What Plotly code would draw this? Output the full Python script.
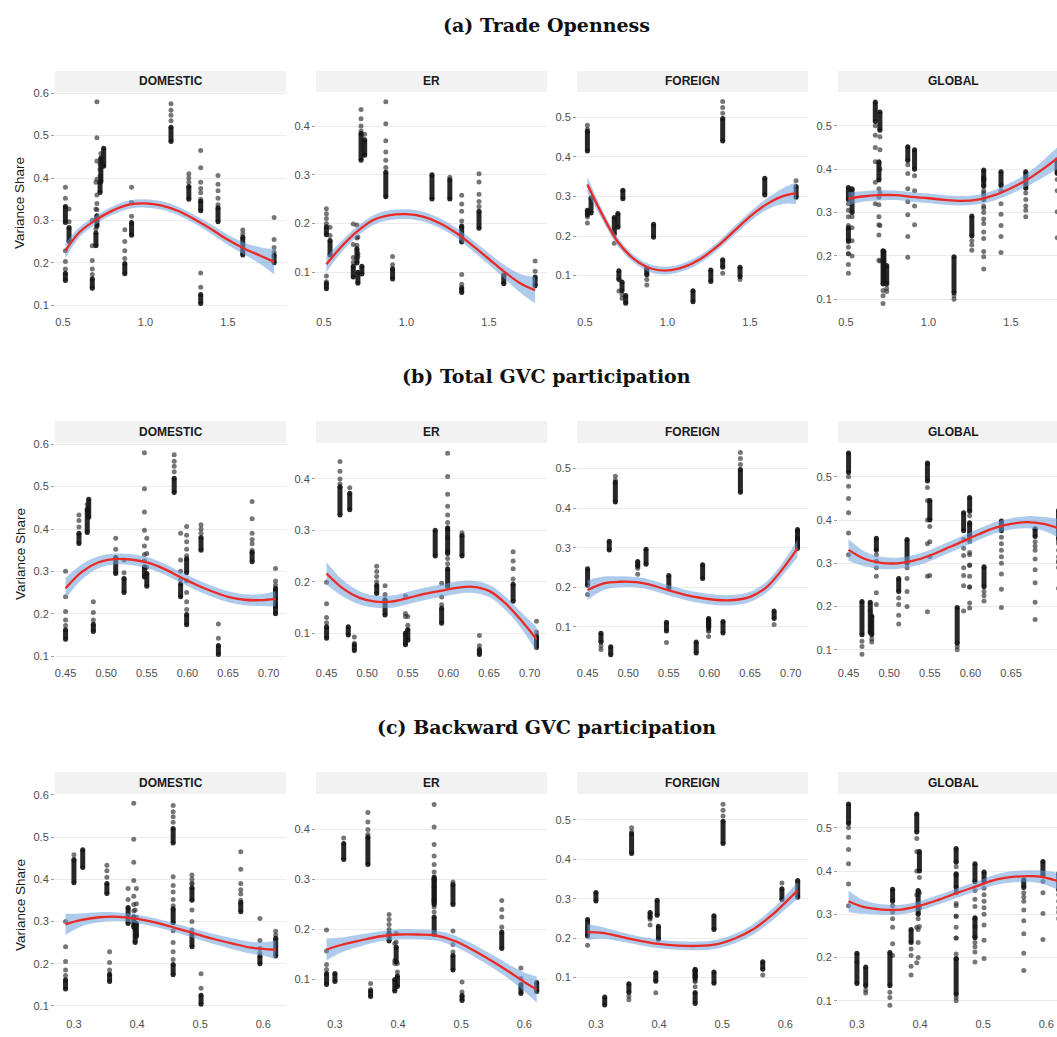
import plotly.graph_objects as go

# ---------------------------------------------------------------- data
# one entry per country (same order in every list)
COUNTRY = ["C1", "C2", "C3a", "C3b", "C4", "C5", "C6", "C7", "C8",
           "C9", "C10", "C11", "C12", "C13", "C14", "C15", "C16", "C17"]

# regressors (x) for the three rows
X_TRADE = [0.678, 0.725, 0.730, 0.747, 0.515, 0.515, 0.537, 0.706, 0.916,
           1.155, 0.700, 1.440, 0.875, 1.263, 1.335, 1.335, 1.590, 1.780]
X_GVC_TOTAL = [0.450, 0.4665, 0.4767, 0.4785, 0.4842, 0.5117, 0.5220, 0.5471, 0.5500,
               0.5837, 0.5916, 0.5990, 0.5990, 0.6167, 0.6381, 0.6796, 0.7084, 0.7084]
X_GVC_BACKWARD = [0.2867, 0.3522, 0.3000, 0.3139, 0.3565, 0.3858, 0.3970, 0.3948, 0.3990,
                  0.4572, 0.4870, 0.4572, 0.4572, 0.4870, 0.5014, 0.5643, 0.6197, 0.5947]

# variance shares: dense stack (low, high) and isolated values, per country
DOMESTIC_DENSE = [(0.140, 0.162), (0.366, 0.390), (0.392, 0.447), (0.428, 0.470), (0.158, 0.175),
                  (0.295, 0.333), (0.250, 0.283), (0.287, 0.311), (0.265, 0.295), (0.486, 0.520),
                  (0.240, 0.270), (0.297, 0.330), (0.174, 0.198), (0.350, 0.380), (0.104, 0.125),
                  (0.323, 0.345), (0.218, 0.260), (0.200, 0.218)]
DOMESTIC_SPARSE = [[0.172, 0.185, 0.205, 0.240, 0.300], [0.405, 0.420, 0.433], [0.458], [],
                   [0.185, 0.203, 0.228], [0.352, 0.378], [0.297, 0.327],
                   [0.325, 0.340, 0.360, 0.397, 0.440, 0.495, 0.580], [0.310, 0.342, 0.378],
                   [0.535, 0.548, 0.560, 0.575], [0.280, 0.300, 0.327, 0.390],
                   [0.337, 0.352, 0.370, 0.385, 0.406], [0.210, 0.228, 0.250, 0.278],
                   [0.390, 0.400, 0.410], [0.142, 0.176], [0.350, 0.365, 0.375, 0.390, 0.424, 0.465],
                   [0.268, 0.277], [0.225, 0.236, 0.255, 0.307]]

ER_DENSE = [(0.090, 0.112), (0.330, 0.385), (0.096, 0.112), (0.340, 0.372), (0.066, 0.077),
            (0.177, 0.193), (0.135, 0.165), (0.077, 0.100), (0.086, 0.107), (0.250, 0.300),
            (0.119, 0.148), (0.190, 0.225), (0.255, 0.305), (0.250, 0.290), (0.058, 0.068),
            (0.162, 0.195), (0.076, 0.094), (0.072, 0.090)]
ER_SPARSE = [[0.120, 0.130, 0.157, 0.199], [0.390, 0.400, 0.415, 0.434], [], [0.383],
             [0.080, 0.092], [0.200, 0.210, 0.220, 0.230], [0.175, 0.192], [0.132, 0.138, 0.172],
             [0.115, 0.132], [], [0.155, 0.170, 0.197], [0.235, 0.245, 0.260, 0.285, 0.302],
             [0.315, 0.330, 0.347, 0.370, 0.405, 0.450], [0.295], [0.075, 0.095],
             [0.205, 0.225, 0.240, 0.258], [], [0.102, 0.123]]

FOREIGN_DENSE = [(0.205, 0.247), (0.062, 0.084), (0.294, 0.316), (0.030, 0.050), (0.415, 0.465),
                 (0.253, 0.265), (0.258, 0.296), (0.090, 0.112), (0.197, 0.230), (0.034, 0.062),
                 (0.222, 0.257), (0.097, 0.121), (0.102, 0.118), (0.085, 0.114), (0.440, 0.497),
                 (0.121, 0.140), (0.304, 0.346), (0.298, 0.325)]
FOREIGN_SPARSE = [[0.182], [0.052, 0.043], [], [], [0.470, 0.480], [0.248, 0.233], [], [0.061],
                  [], [], [], [0.090], [0.090, 0.076], [], [0.510, 0.525, 0.540], [0.106], [],
                  [0.340]]

GLOBAL_DENSE = [(0.510, 0.555), (0.135, 0.212), (0.140, 0.210), (0.135, 0.178), (0.330, 0.358),
                (0.235, 0.265), (0.300, 0.355), (0.490, 0.532), (0.400, 0.445), (0.115, 0.198),
                (0.375, 0.417), (0.362, 0.394), (0.420, 0.452), (0.246, 0.292), (0.375, 0.398),
                (0.362, 0.380), (0.356, 0.394), (0.390, 0.422)]
GLOBAL_SPARSE = [[0.500, 0.478, 0.450, 0.417, 0.370, 0.320], [0.120, 0.108, 0.090], [0.190],
                 [0.125, 0.118], [0.320, 0.305, 0.290, 0.270, 0.232, 0.205],
                 [0.220, 0.205, 0.180, 0.160], [0.290, 0.265, 0.235, 0.200],
                 [0.475, 0.445, 0.400, 0.345, 0.270, 0.188], [0.385, 0.350, 0.315, 0.272],
                 [0.108, 0.100], [0.355, 0.335, 0.318, 0.290, 0.272, 0.248, 0.190],
                 [0.350, 0.320, 0.296, 0.270, 0.245, 0.208],
                 [0.410, 0.390, 0.355, 0.325, 0.295, 0.245, 0.197], [0.235, 0.225, 0.213],
                 [0.360, 0.345, 0.330, 0.315, 0.300, 0.275, 0.240, 0.198],
                 [0.350, 0.340, 0.330, 0.310, 0.285, 0.255, 0.210, 0.170],
                 [0.345, 0.330, 0.315, 0.305, 0.290], [0.376, 0.350, 0.302, 0.242]]

# fitted smooth curves (fit) and half-width of confidence band (se)
SMOOTH_X_A = [0.515, 0.6, 0.7, 0.8, 0.9, 1.0, 1.1, 1.2, 1.3, 1.4, 1.5, 1.6, 1.7, 1.78]
FIT_A_DOMESTIC = [0.228, 0.272, 0.301, 0.323, 0.337, 0.340, 0.335, 0.322, 0.302, 0.279, 0.254, 0.233, 0.216, 0.202]
SE_A_DOMESTIC = [0.018, 0.012, 0.010, 0.010, 0.010, 0.010, 0.010, 0.010, 0.010, 0.011, 0.012, 0.014, 0.020, 0.030]
FIT_A_ER = [0.116, 0.150, 0.183, 0.207, 0.217, 0.219, 0.214, 0.201, 0.181, 0.155, 0.127, 0.099, 0.075, 0.063]
SE_A_ER = [0.016, 0.012, 0.010, 0.010, 0.010, 0.010, 0.010, 0.010, 0.010, 0.011, 0.012, 0.014, 0.020, 0.027]
FIT_A_FOREIGN = [0.330, 0.258, 0.185, 0.141, 0.118, 0.113, 0.122, 0.142, 0.173, 0.211, 0.249, 0.280, 0.301, 0.308]
SE_A_FOREIGN = [0.020, 0.013, 0.011, 0.010, 0.010, 0.010, 0.010, 0.010, 0.010, 0.011, 0.012, 0.014, 0.020, 0.027]
FIT_A_GLOBAL = [0.332, 0.337, 0.340, 0.340, 0.336, 0.333, 0.329, 0.327, 0.330, 0.340, 0.356, 0.376, 0.402, 0.425]
SE_A_GLOBAL = [0.015, 0.012, 0.012, 0.011, 0.011, 0.011, 0.011, 0.011, 0.011, 0.012, 0.013, 0.015, 0.020, 0.025]

SMOOTH_X_B = [0.45, 0.47, 0.49, 0.51, 0.53, 0.55, 0.57, 0.59, 0.61, 0.63, 0.65, 0.67, 0.69, 0.7084]
FIT_B_DOMESTIC = [0.260, 0.299, 0.321, 0.329, 0.328, 0.321, 0.307, 0.288, 0.269, 0.253, 0.240, 0.233, 0.232, 0.235]
SE_B_DOMESTIC = [0.025, 0.018, 0.014, 0.013, 0.013, 0.013, 0.013, 0.013, 0.013, 0.013, 0.013, 0.013, 0.014, 0.018]
FIT_B_ER = [0.216, 0.187, 0.169, 0.161, 0.161, 0.168, 0.176, 0.182, 0.188, 0.190, 0.182, 0.158, 0.124, 0.088]
SE_B_ER = [0.022, 0.016, 0.013, 0.012, 0.012, 0.012, 0.012, 0.012, 0.012, 0.012, 0.012, 0.013, 0.016, 0.024]
FIT_B_FOREIGN = [0.193, 0.210, 0.214, 0.213, 0.205, 0.192, 0.181, 0.173, 0.168, 0.168, 0.176, 0.200, 0.246, 0.298]
SE_B_FOREIGN = [0.025, 0.017, 0.014, 0.013, 0.013, 0.013, 0.013, 0.013, 0.013, 0.013, 0.013, 0.014, 0.016, 0.022]
FIT_B_GLOBAL = [0.331, 0.310, 0.301, 0.300, 0.306, 0.318, 0.334, 0.350, 0.367, 0.382, 0.391, 0.395, 0.391, 0.381]
SE_B_GLOBAL = [0.025, 0.017, 0.014, 0.013, 0.013, 0.013, 0.013, 0.013, 0.013, 0.013, 0.013, 0.014, 0.016, 0.022]

SMOOTH_X_C = [0.2867, 0.31, 0.34, 0.37, 0.40, 0.43, 0.46, 0.49, 0.52, 0.55, 0.58, 0.60, 0.6197]
FIT_C_DOMESTIC = [0.293, 0.303, 0.310, 0.311, 0.306, 0.297, 0.285, 0.272, 0.259, 0.248, 0.238, 0.235, 0.233]
SE_C_DOMESTIC = [0.025, 0.016, 0.012, 0.010, 0.010, 0.010, 0.010, 0.011, 0.012, 0.013, 0.014, 0.016, 0.022]
FIT_C_ER = [0.160, 0.169, 0.178, 0.186, 0.190, 0.190, 0.188, 0.177, 0.158, 0.136, 0.112, 0.095, 0.080]
SE_C_ER = [0.022, 0.015, 0.012, 0.010, 0.010, 0.010, 0.010, 0.011, 0.012, 0.013, 0.015, 0.019, 0.026]
FIT_C_FOREIGN = [0.215, 0.213, 0.203, 0.193, 0.185, 0.181, 0.180, 0.184, 0.199, 0.223, 0.260, 0.290, 0.321]
SE_C_FOREIGN = [0.020, 0.015, 0.012, 0.011, 0.011, 0.011, 0.011, 0.011, 0.012, 0.013, 0.015, 0.017, 0.022]
FIT_C_GLOBAL = [0.330, 0.317, 0.311, 0.311, 0.320, 0.334, 0.350, 0.365, 0.380, 0.387, 0.388, 0.384, 0.376]
SE_C_GLOBAL = [0.025, 0.016, 0.012, 0.011, 0.011, 0.011, 0.011, 0.011, 0.012, 0.013, 0.014, 0.016, 0.020]

ROW_TITLES = ["(a) Trade Openness", "(b) Total GVC participation", "(c) Backward GVC participation"]
FACETS = ["DOMESTIC", "ER", "FOREIGN", "GLOBAL"]
Y_LABEL = "Variance Share"

# ---------------------------------------------------------------- assembly
ROW_X = [X_TRADE, X_GVC_TOTAL, X_GVC_BACKWARD]
DENSE = [DOMESTIC_DENSE, ER_DENSE, FOREIGN_DENSE, GLOBAL_DENSE]
SPARSE = [DOMESTIC_SPARSE, ER_SPARSE, FOREIGN_SPARSE, GLOBAL_SPARSE]
SMOOTH_X = [SMOOTH_X_A, SMOOTH_X_B, SMOOTH_X_C]
FITS = [[FIT_A_DOMESTIC, FIT_A_ER, FIT_A_FOREIGN, FIT_A_GLOBAL],
        [FIT_B_DOMESTIC, FIT_B_ER, FIT_B_FOREIGN, FIT_B_GLOBAL],
        [FIT_C_DOMESTIC, FIT_C_ER, FIT_C_FOREIGN, FIT_C_GLOBAL]]
SES = [[SE_A_DOMESTIC, SE_A_ER, SE_A_FOREIGN, SE_A_GLOBAL],
       [SE_B_DOMESTIC, SE_B_ER, SE_B_FOREIGN, SE_B_GLOBAL],
       [SE_C_DOMESTIC, SE_C_ER, SE_C_FOREIGN, SE_C_GLOBAL]]

W, H = 1057, 1037
COL_PX = [(55, 286), (316, 547), (577, 808), (838, 1069)]
ROW_PX = [(92, 314), (443, 665), (794, 1016)]
STRIP_PX = [(71, 92), (421, 443), (772, 794)]
TITLE_Y = [25, 376, 727]
X_RANGE = [(0.452, 1.852), (0.437, 0.7213), (0.270, 0.636)]
Y_RANGE = [[(0.079, 0.603), (0.014, 0.470), (0.003, 0.564), (0.066, 0.578)],
           [(0.079, 0.603), (0.0377, 0.470), (0.004, 0.564), (0.065, 0.578)],
           [(0.076, 0.602), (0.027, 0.471), (0.002, 0.566), (0.065, 0.578)]]
X_TICKS = [([0.5, 1.0, 1.5], ".1f"),
           ([0.45, 0.50, 0.55, 0.60, 0.65, 0.70], ".2f"),
           ([0.3, 0.4, 0.5, 0.6], ".1f")]

AXIS_FONT = dict(family="Liberation Sans, Arial, sans-serif", size=11, color="#4d4d4d")
DARK = "rgba(22,22,22,0.92)"
LIGHT = "rgba(45,45,45,0.65)"
RED = "#ec2a25"
BAND = "rgba(110,160,220,0.55)"

fig = go.Figure()
shapes, annotations = [], []

for r in range(3):
    xs_row = ROW_X[r]
    for c in range(4):
        k = r * 4 + c + 1
        xref = "x" if k == 1 else f"x{k}"
        yref = "y" if k == 1 else f"y{k}"

        # dense stacks as thick dark segments, isolated points as markers
        sx, sy, ex, ey, px, py = [], [], [], [], [], []
        for i in range(len(COUNTRY)):
            lo, hi = DENSE[c][i]
            sx += [xs_row[i], xs_row[i], None]
            sy += [lo, hi, None]
            ex += [xs_row[i], xs_row[i]]
            ey += [lo, hi]
            for v in SPARSE[c][i]:
                px.append(xs_row[i])
                py.append(v)
        fig.add_trace(go.Scatter(x=px, y=py, mode="markers", xaxis=xref, yaxis=yref,
                                 marker=dict(size=5, color=LIGHT, line=dict(width=0)),
                                 hoverinfo="skip", showlegend=False))
        fig.add_trace(go.Scatter(x=sx, y=sy, mode="lines", xaxis=xref, yaxis=yref,
                                 line=dict(width=5, color=DARK),
                                 hoverinfo="skip", showlegend=False))
        fig.add_trace(go.Scatter(x=ex, y=ey, mode="markers", xaxis=xref, yaxis=yref,
                                 marker=dict(size=5, color=DARK, line=dict(width=0)),
                                 hoverinfo="skip", showlegend=False))

        # confidence band and fitted line
        gx = SMOOTH_X[r]
        fit = FITS[r][c]
        se = SES[r][c]
        lower = [f - s for f, s in zip(fit, se)]
        upper = [f + s for f, s in zip(fit, se)]
        fig.add_trace(go.Scatter(x=gx, y=lower, mode="lines", xaxis=xref, yaxis=yref,
                                 line=dict(width=0, color=BAND, shape="spline"),
                                 hoverinfo="skip", showlegend=False))
        fig.add_trace(go.Scatter(x=gx, y=upper, mode="lines", xaxis=xref, yaxis=yref,
                                 line=dict(width=0, color=BAND, shape="spline"),
                                 fill="tonexty", fillcolor=BAND,
                                 hoverinfo="skip", showlegend=False))
        fig.add_trace(go.Scatter(x=gx, y=fit, mode="lines", xaxis=xref, yaxis=yref,
                                 line=dict(width=2.3, color=RED, shape="spline"),
                                 hoverinfo="skip", showlegend=False))

        # axes
        x0p, x1p = COL_PX[c]
        x1c = min(x1p, W)
        xlo, xhi = X_RANGE[r]
        xhi_c = xlo + (xhi - xlo) * (x1c - x0p) / (x1p - x0p)
        y0p, y1p = ROW_PX[r]
        tv, tf = X_TICKS[r]
        xkey = "xaxis" if k == 1 else f"xaxis{k}"
        ykey = "yaxis" if k == 1 else f"yaxis{k}"
        fig.update_layout(**{
            xkey: dict(domain=[x0p / W, x1c / W], range=[xlo, xhi_c], anchor=yref,
                       tickvals=tv, tickformat=tf, showgrid=False, zeroline=False,
                       showline=False, ticks="", tickfont=AXIS_FONT, fixedrange=True,
                       automargin=False),
            ykey: dict(domain=[1 - y1p / H, 1 - y0p / H], range=list(Y_RANGE[r][c]),
                       anchor=xref, dtick=0.1, tick0=0, tickformat=".1f",
                       showgrid=True, gridcolor="#ebebeb", gridwidth=1, zeroline=False,
                       showline=False, ticks="outside", ticklen=3, tickcolor="#9a9a9a",
                       tickwidth=1, tickfont=AXIS_FONT, fixedrange=True, automargin=False),
        })

        # facet strip
        s0, s1 = STRIP_PX[r]
        shapes.append(dict(type="rect", xref="paper", yref="paper",
                           x0=x0p / W, x1=x1c / W, y0=1 - s1 / H, y1=1 - s0 / H,
                           fillcolor="#f2f2f2", line=dict(width=0), layer="below"))
        annotations.append(dict(xref="paper", yref="paper", x=(x0p + x1p) / 2 / W,
                                y=1 - (s0 + s1) / 2 / H, text=f"<b>{FACETS[c]}</b>",
                                showarrow=False, xanchor="center", yanchor="middle",
                                font=dict(family="Liberation Sans, Arial, sans-serif",
                                          size=12, color="#1a1a1a")))

    # row title and y-axis label
    annotations.append(dict(xref="paper", yref="paper", x=546 / W, y=1 - TITLE_Y[r] / H,
                            text=f"<b>{ROW_TITLES[r]}</b>", showarrow=False,
                            xanchor="center", yanchor="middle",
                            font=dict(family="DejaVu Serif, serif", size=19, color="#111111")))
    annotations.append(dict(xref="paper", yref="paper", x=20 / W,
                            y=1 - (ROW_PX[r][0] + ROW_PX[r][1]) / 2 / H,
                            text=Y_LABEL, textangle=-90, showarrow=False,
                            xanchor="center", yanchor="middle",
                            font=dict(family="Liberation Sans, Arial, sans-serif",
                                      size=13.5, color="#1a1a1a")))

fig.update_layout(width=W, height=H, autosize=False,
                  margin=dict(l=0, r=0, t=0, b=0, pad=0, autoexpand=False),
                  paper_bgcolor="white", plot_bgcolor="white",
                  showlegend=False, shapes=shapes, annotations=annotations)

fig.write_html("out.html", config={"displayModeBar": False},
               post_script="document.body.style.margin='0';document.body.style.overflow='hidden';")
